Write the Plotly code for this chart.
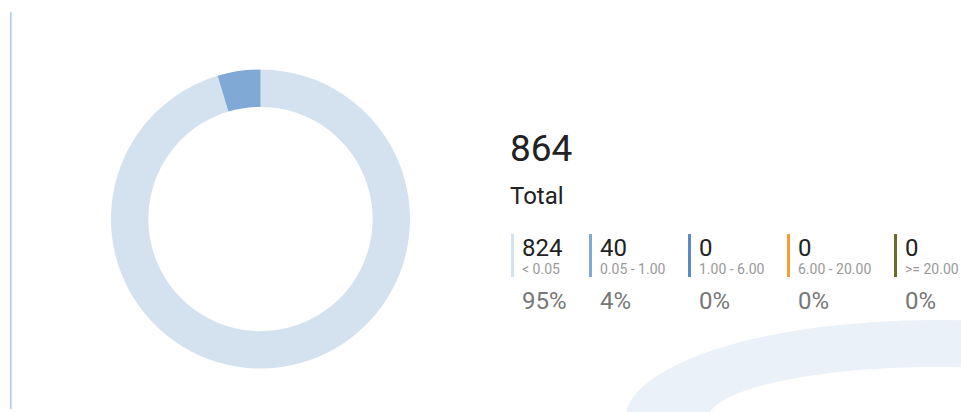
import plotly.graph_objects as go

# ---- data ----
range_labels = ["< 0.05", "0.05 - 1.00", "1.00 - 6.00", "6.00 - 20.00", ">= 20.00"]
counts = [824, 40, 0, 0, 0]
percent_labels = ["95%", "4%", "0%", "0%", "0%"]
colors = ["#d4e2f0", "#80aad5", "#5b8bc6", "#f79c33", "#6b6a2c"]
total_label = "Total"

# ---- layout constants (pixels) ----
W, H = 961, 412
FONT = "Roboto, Arial, sans-serif"
item_x = [511, 589, 688, 787, 894]   # left edge of each legend item bar

def px(x):
    return x / W

def py(y):
    return 1 - y / H

total = sum(counts)

fig = go.Figure()
fig.add_trace(go.Pie(
    values=counts,
    labels=range_labels,
    marker=dict(colors=colors, line=dict(width=0)),
    hole=0.75,
    sort=False,
    direction="clockwise",
    rotation=0,
    textinfo="none",
    hoverinfo="label+value+percent",
    domain=dict(x=[px(111), px(410)], y=[py(369), py(69)]),
    showlegend=False,
))

shapes = []
# decorative large faint (elliptical) ring at the bottom right: outer fill + inner white
ecx, ecy = 935, 420
for (a, b, fill) in [(310, 100, "#ebf1f8"), (227.6, 53, "#ffffff")]:
    shapes.append(dict(type="circle", xref="paper", yref="paper",
                       x0=px(ecx - a), x1=px(ecx + a), y0=py(ecy + b), y1=py(ecy - b),
                       line=dict(width=0), fillcolor=fill, layer="below"))
# left vertical divider
shapes.append(dict(type="line", xref="paper", yref="paper",
                   x0=px(10.8), x1=px(10.8), y0=py(12), y1=py(409),
                   line=dict(color="#aac8ea", width=1.5)))

annotations = []
annotations.append(dict(text=f"{total}", x=px(508), y=py(149), xref="paper", yref="paper",
                        xanchor="left", yanchor="middle", showarrow=False,
                        font=dict(family=FONT, size=37, color="#222222")))
annotations.append(dict(text=total_label, x=px(508), y=py(195.5), xref="paper", yref="paper",
                        xanchor="left", yanchor="middle", showarrow=False,
                        font=dict(family=FONT, size=24, color="#222222")))

for i, (lab, cnt, pct, col) in enumerate(zip(range_labels, counts, percent_labels, colors)):
    x0 = item_x[i]
    shapes.append(dict(type="rect", xref="paper", yref="paper",
                       x0=px(x0), x1=px(x0 + 3), y0=py(277), y1=py(234),
                       line=dict(width=0), fillcolor=col))
    annotations.append(dict(text=str(cnt), x=px(x0 + 9), y=py(247.5), xref="paper", yref="paper",
                            xanchor="left", yanchor="middle", showarrow=False,
                            font=dict(family=FONT, size=24, color="#222222")))
    annotations.append(dict(text=lab, x=px(x0 + 9), y=py(269), xref="paper", yref="paper",
                            xanchor="left", yanchor="middle", showarrow=False,
                            font=dict(family=FONT, size=14, color="#999999")))
    annotations.append(dict(text=pct, x=px(x0 + 9), y=py(301), xref="paper", yref="paper",
                            xanchor="left", yanchor="middle", showarrow=False,
                            font=dict(family=FONT, size=24, color="#777777")))

fig.update_layout(
    width=W, height=H,
    margin=dict(l=0, r=0, t=0, b=0),
    paper_bgcolor="white", plot_bgcolor="white",
    showlegend=False,
    shapes=shapes,
    annotations=annotations,
)

fig.write_html("out.html")
